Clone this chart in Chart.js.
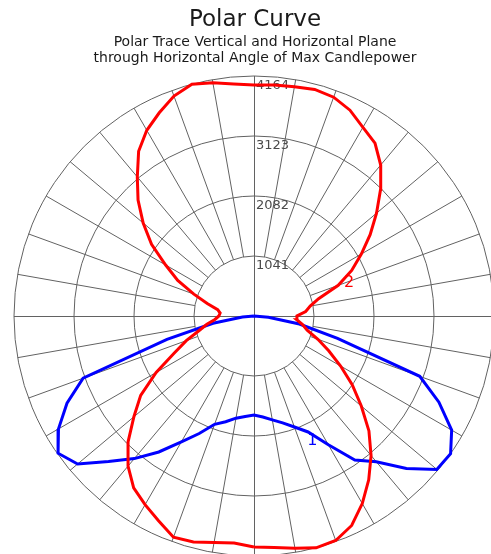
<!DOCTYPE html>
<html>
<head>
<meta charset="utf-8">
<script src="https://cdn.jsdelivr.net/npm/chart.js@4.4.1/dist/chart.umd.min.js"></script>
<style>
  html, body { margin: 0; padding: 0; background: #fff; }
  #wrap { position: relative; width: 491px; height: 554px; }
</style>
</head>
<body>
<div id="wrap"><canvas id="polar"></canvas></div>
<script>
// Candela rings and their labels
const ringValues = [1041, 2082, 3123, 4164];
const ringLabels = ['1041', '2082', '3123', '4164'];

// radial spokes (degrees from nadir), axes drawn separately
const spokeAngles = [10, 20, 30, 40, 50, 60, 70, 80, 100, 110, 120, 130, 140, 150, 160, 170,
                     190, 200, 210, 220, 230, 240, 250, 260, 280, 290, 300, 310, 320, 330, 340, 350];

// Curve 2 (red) - angle from nadir, clockwise to the right
const redAngles = [0, 5, 10, 15, 20, 25, 30, 35, 40, 45, 50, 55, 60, 65, 70, 75, 80, 85,
                   90, 95, 100, 105, 110, 115, 120, 125, 130, 135, 140, 145, 150, 155, 160, 165, 170, 175,
                   180, 185, 190, 195, 200, 205, 210, 215, 220, 225, 230, 235, 240, 245, 250, 255, 260, 265,
                   270, 275, 280, 285, 290, 295, 300, 305, 310, 315, 320, 325, 330, 335, 340, 345, 350, 355, 360];
const redCandela = [4008, 4030, 4090, 4164, 4145, 4010, 3757, 3470, 3160, 2820, 2430, 2080, 1735, 1430, 1180, 955, 855, 745,
                    745, 900, 990, 1160, 1555, 1870, 2150, 2460, 2775, 3105, 3420, 3660, 3780, 3940, 4040, 4070, 4040, 4025,
                    4008, 4040, 4110, 4164, 4060, 3890, 3720, 3490, 3150, 2845, 2510, 2170, 1770, 1460, 1110, 840, 640, 590,
                    610, 680, 830, 990, 1250, 1530, 1960, 2400, 2720, 3090, 3400, 3640, 3780, 3920, 4085, 4060, 3990, 3955, 4008];

// Curve 1 (blue) - angle from nadir, negative = left
const blueAngles = [-90, -85, -80, -75, -70, -65, -60, -55, -50, -45, -40, -35, -30, -25, -20, -15, -10, -5,
                    0, 5, 10, 15, 20, 25, 30, 35, 40, 45, 50, 55, 60, 65, 70, 75, 80, 85, 90];
const blueCandela = [0, 200, 722, 1563, 3155, 3580, 3917, 4150, 3995, 3570, 3230, 2880, 2520, 2250, 2000, 1900, 1800, 1750,
                     1720, 1760, 1830, 1920, 2050, 2220, 2580, 3050, 3300, 3740, 4140, 4164, 3960, 3540, 3060, 1500, 800, 250, 0];

// curve tags: [text, candela, angle]
const curveTags = [['2', 1745, 109], ['1', 2396, 25]];

const toXY = (angles, values) => angles.map((a, i) => {
    const t = a * Math.PI / 180;
    return { x: values[i] * Math.sin(t), y: -values[i] * Math.cos(t) };
});

// layout: plot centre at (254,316), outer ring radius 240px
const maxCd = ringValues[ringValues.length - 1];
const pxPerCd = 240 / maxCd;
const area = { left: 19, top: 66, right: 491, bottom: 554 };
const centre = { x: 254, y: 316 };

const polarGrid = {
    id: 'polarGrid',
    beforeDatasetsDraw(chart) {
        const { ctx, scales: { x, y } } = chart;
        const cx = x.getPixelForValue(0), cy = y.getPixelForValue(0);
        const rad = v => x.getPixelForValue(v) - cx;
        const rIn = rad(ringValues[0]), rOut = rad(maxCd);
        ctx.save();
        ctx.strokeStyle = '#626262';
        ctx.lineWidth = 1;
        ringValues.forEach(v => {
            ctx.beginPath();
            ctx.arc(cx, cy, rad(v), 0, Math.PI * 2);
            ctx.stroke();
        });
        ctx.beginPath();
        spokeAngles.forEach(a => {
            const t = a * Math.PI / 180, sx = Math.sin(t), sy = Math.cos(t);
            ctx.moveTo(cx + rIn * sx, cy + rIn * sy);
            ctx.lineTo(cx + rOut * sx, cy + rOut * sy);
        });
        ctx.moveTo(cx - rOut, Math.round(cy) + 0.5);
        ctx.lineTo(cx + rOut, Math.round(cy) + 0.5);
        ctx.moveTo(Math.round(cx) + 0.5, cy - rOut);
        ctx.lineTo(Math.round(cx) + 0.5, cy + rOut);
        ctx.stroke();

        ctx.fillStyle = '#4a4a4a';
        ctx.font = '13px "DejaVu Sans"';
        ctx.textBaseline = 'alphabetic';
        ctx.textAlign = 'left';
        ringValues.forEach((v, i) => ctx.fillText(ringLabels[i], cx + 2, cy - rad(v) + 13));
        ctx.restore();
    },
    afterDatasetsDraw(chart) {
        const { ctx, scales: { x, y } } = chart;
        ctx.save();
        ctx.font = '16px "DejaVu Sans"';
        ctx.textAlign = 'center';
        ctx.textBaseline = 'middle';
        curveTags.forEach(([txt, v, a], i) => {
            const t = a * Math.PI / 180;
            ctx.fillStyle = i === 0 ? '#ff0000' : '#0000ff';
            ctx.fillText(txt, x.getPixelForValue(v * Math.sin(t)), y.getPixelForValue(-v * Math.cos(t)));
        });
        ctx.restore();
    }
};

new Chart(document.getElementById('polar'), {
    type: 'scatter',
    data: {
        datasets: [
            { label: '2', data: toXY(redAngles, redCandela), borderColor: '#ff0000', borderWidth: 3, showLine: true, pointRadius: 0, tension: 0, clip: false },
            { label: '1', data: toXY(blueAngles, blueCandela), borderColor: '#0000ff', borderWidth: 3, showLine: true, pointRadius: 0, tension: 0, clip: false }
        ]
    },
    options: {
        responsive: true,
        maintainAspectRatio: false,
        animation: false,
        layout: { padding: { left: area.left, top: 0, right: 0, bottom: 0 } },
        scales: {
            x: { display: false, min: -(centre.x - area.left) / pxPerCd, max: (area.right - centre.x) / pxPerCd },
            y: { display: false, min: -(area.bottom - centre.y) / pxPerCd, max: (centre.y - area.top) / pxPerCd }
        },
        plugins: {
            legend: { display: false },
            tooltip: { enabled: false },
            title: {
                display: true, text: 'Polar Curve', color: '#1a1a1a',
                font: { family: 'DejaVu Sans', size: 23, weight: 'normal', lineHeight: '26px' },
                padding: { top: 7, bottom: 0 }
            },
            subtitle: {
                display: true, color: '#1a1a1a',
                text: ['Polar Trace Vertical and Horizontal Plane', 'through Horizontal Angle of Max Candlepower'],
                font: { family: 'DejaVu Sans', size: 14, lineHeight: '16px' },
                padding: { top: 1, bottom: 0 }
            }
        }
    },
    plugins: [polarGrid]
});
</script>
</body>
</html>
